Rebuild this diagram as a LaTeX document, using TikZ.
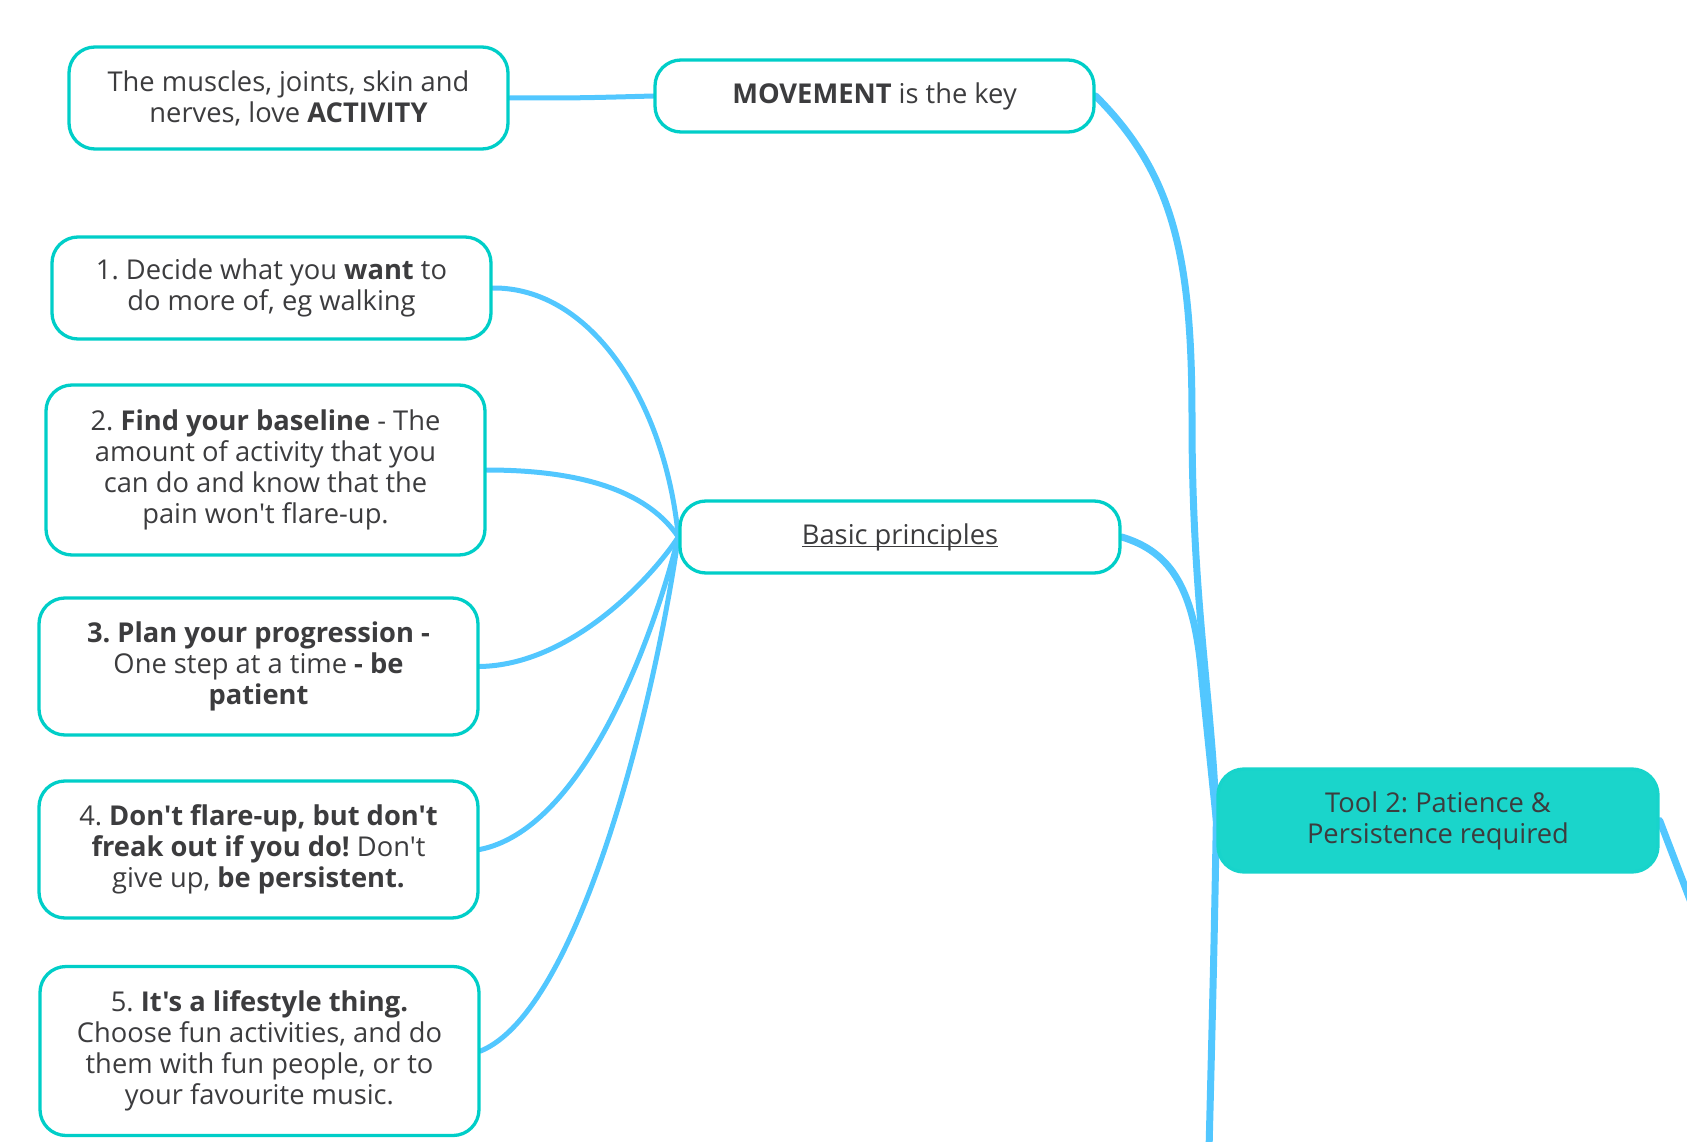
\documentclass[tikz,border=0pt]{standalone}
\usepackage{fontspec}
\setmainfont{Open Sans}[Ligatures=TeXOff]
\usetikzlibrary{backgrounds}
\frenchspacing
\definecolor{tealc}{RGB}{0,206,200}
\definecolor{toolfill}{RGB}{26,213,203}
\definecolor{linkc}{RGB}{82,199,255}
\definecolor{txt}{RGB}{60,60,62}
\newcommand\myul[1]{\setbox0\hbox{#1}\rlap{\rule[-3pt]{\wd0}{1.4pt}}\box0}
\tikzset{
  box/.style={draw=tealc, line width=3.3pt, rounded corners=26pt, fill=white, align=center,
    text=txt, minimum width=439pt, inner sep=0pt, font=\frenchspacing\fontsize{27.3}{31}\selectfont},
  toolbox/.style={box, fill=toolfill, draw=toolfill!90!tealc},
  thin link/.style={draw=linkc, line width=5pt, line cap=round},
  thick link/.style={draw=linkc, line width=7pt, line cap=round},
}
\begin{document}
\begin{tikzpicture}[x=1pt,y=-1pt]
\useasboundingbox (0,0) rectangle (1687,1142);
\node[box, minimum height=102pt] (act) at (288.5,98) {The muscles, joints, skin and\\nerves, love \textbf{ACTIVITY}};
\node[box, minimum height=72pt] (mov) at (874.5,96) {\textbf{MOVEMENT} is the key};
\node[box, minimum height=102pt] (b1) at (271.5,288) {1. Decide what you \textbf{want} to\\do more of, eg walking};
\node[box, minimum height=170pt] (b2) at (265.5,470) {2. \textbf{Find your baseline} - The\\amount of activity that you\\can do and know that the\\pain won't flare-up.};
\node[box, minimum height=137pt] (b3) at (258.5,666.5) {\textbf{3. Plan your progression -}\\One step at a time \textbf{- be}\\\textbf{patient}};
\node[box, minimum height=137pt] (b4) at (258.5,849.5) {4. \textbf{Don't flare-up, but don't}\\\textbf{freak out if you do!} Don't\\give up, \textbf{be persistent.}};
\node[box, minimum height=169pt] (b5) at (259.5,1051) {5. \textbf{It's a lifestyle thing.}\\Choose fun activities, and do\\them with fun people, or to\\your favourite music.};
\node[box, minimum height=72pt, minimum width=440pt] (bp) at (900,537) {\myul{Basic principles}};
\node[toolbox, minimum height=103pt, minimum width=440pt] (tool) at (1438,820.5) {Tool 2: Patience \&\\Persistence required};
\coordinate (bottom) at (1209,1150);
\coordinate (right) at (1692,905);
\begin{scope}[on background layer]
\draw[thin link] (act.east) .. controls (580,98) .. (mov.west);
\draw[thick link] (mov.east) .. controls (1175,175) and (1192,260) .. (1192,420) .. controls (1192,600) and (1212,700) .. (tool.west);
\draw[thick link] (bp.east) .. controls (1172,552) and (1195,590) .. (1202,680) -- (tool.west);
\draw[thick link] (tool.west) .. controls (1214,950) .. (bottom);
\draw[thick link] (tool.east) -- (right);
\draw[thin link] (b1.east) .. controls (590,287) and (665,400) .. (bp.west);
\draw[thin link] (b2.east) .. controls (590,470) and (650,495) .. (bp.west);
\draw[thin link] (b3.east) .. controls (570,665) and (650,580) .. (bp.west);
\draw[thin link] (b4.east) .. controls (580,830) and (650,650) .. (bp.west);
\draw[thin link] (b5.east) .. controls (580,1010) and (655,700) .. (bp.west);
\end{scope}
\end{tikzpicture}
\end{document}
